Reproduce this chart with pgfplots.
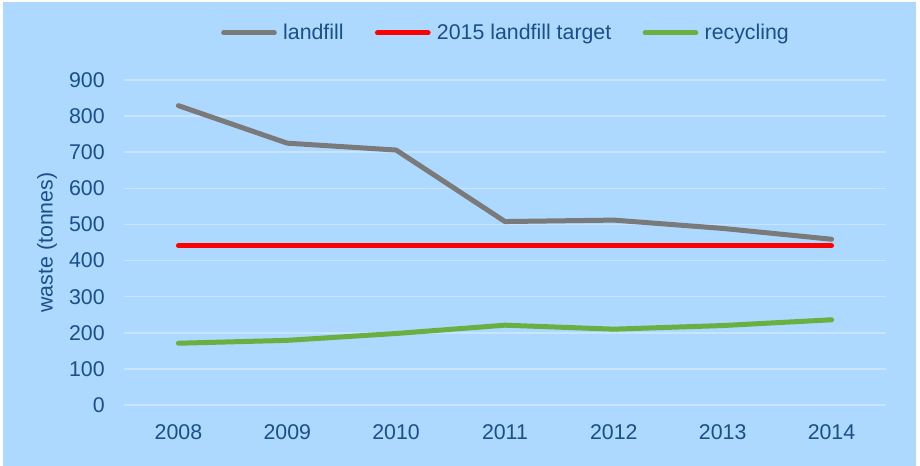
\documentclass[border=0pt]{standalone}
\usepackage{pgfplots}
\pgfplotsset{compat=1.18}
\usepackage{fontspec}
\setmainfont{Liberation Sans}

\definecolor{bgblue}{HTML}{ADD8FF}
\definecolor{gridblue}{HTML}{C8E4FF}
\definecolor{txtblue}{HTML}{1B4F8A}
\definecolor{lfgray}{HTML}{7A7A7A}
\definecolor{recgreen}{HTML}{6AB040}

\begin{document}
\begin{tikzpicture}
% background (1px = 0.75pt)
\fill[white] (-93pt,-45.75pt) rectangle (597pt,303.75pt);
\fill[bgblue] (-90.75pt,-45.75pt) rectangle (594pt,302.25pt);
\useasboundingbox (-93pt,-45.75pt) rectangle (597pt,303.75pt);

\begin{axis}[
    at={(0,0)}, anchor=south west,
    scale only axis,
    width=571.5pt, height=243.75pt,
    xmin=2007.5, xmax=2014.5,
    ymin=0, ymax=900,
    xtick={2008,...,2014},
    xticklabels={2008,2009,2010,2011,2012,2013,2014},
    ytick={0,100,...,900},
    axis line style={draw=none},
    major tick length=0pt,
    ymajorgrids,
    grid style={gridblue, line width=1.2pt},
    font=\fontsize{16}{19}\selectfont,
    /pgf/number format/assume math mode=true,
    ticklabel style={text=txtblue, font=\fontsize{16}{19}\selectfont},
    xticklabel style={anchor=center, inner sep=0pt, yshift=-20pt},
    yticklabel style={anchor=east, inner sep=0pt, xshift=-14.25pt},
    ylabel={waste (tonnes)},
    every axis y label/.style={at={(axis description cs:0,0.5)}, xshift=-57.75pt, rotate=90, anchor=center, text=txtblue},
    legend columns=3,
    legend style={at={(axis description cs:0.5,1)}, anchor=center, yshift=35.25pt,
        draw=none, fill=none, text=txtblue,
        /tikz/every even column/.append style={column sep=23.5pt},
        nodes={inner sep=0pt, anchor=west},
        font=\fontsize{16}{19}\selectfont},
    legend cell align=left,
    legend image code/.code={\draw[#1, line cap=round] (0pt,0pt) -- (38pt,0pt); \path (42.75pt,0pt);},
    every axis plot/.append style={line width=3.75pt, line cap=round, line join=round, mark=none},
]
\addplot[lfgray] coordinates {
    (2008,829) (2009,725) (2010,706) (2011,508) (2012,512) (2013,489) (2014,459)
};
\addlegendentry{landfill}
\addplot[red] coordinates {
    (2008,441) (2014,441)
};
\addlegendentry{2015 landfill target}
\addplot[recgreen] coordinates {
    (2008,171) (2009,179) (2010,198) (2011,221) (2012,210) (2013,220) (2014,236)
};
\addlegendentry{recycling}
\end{axis}
\end{tikzpicture}
\end{document}
